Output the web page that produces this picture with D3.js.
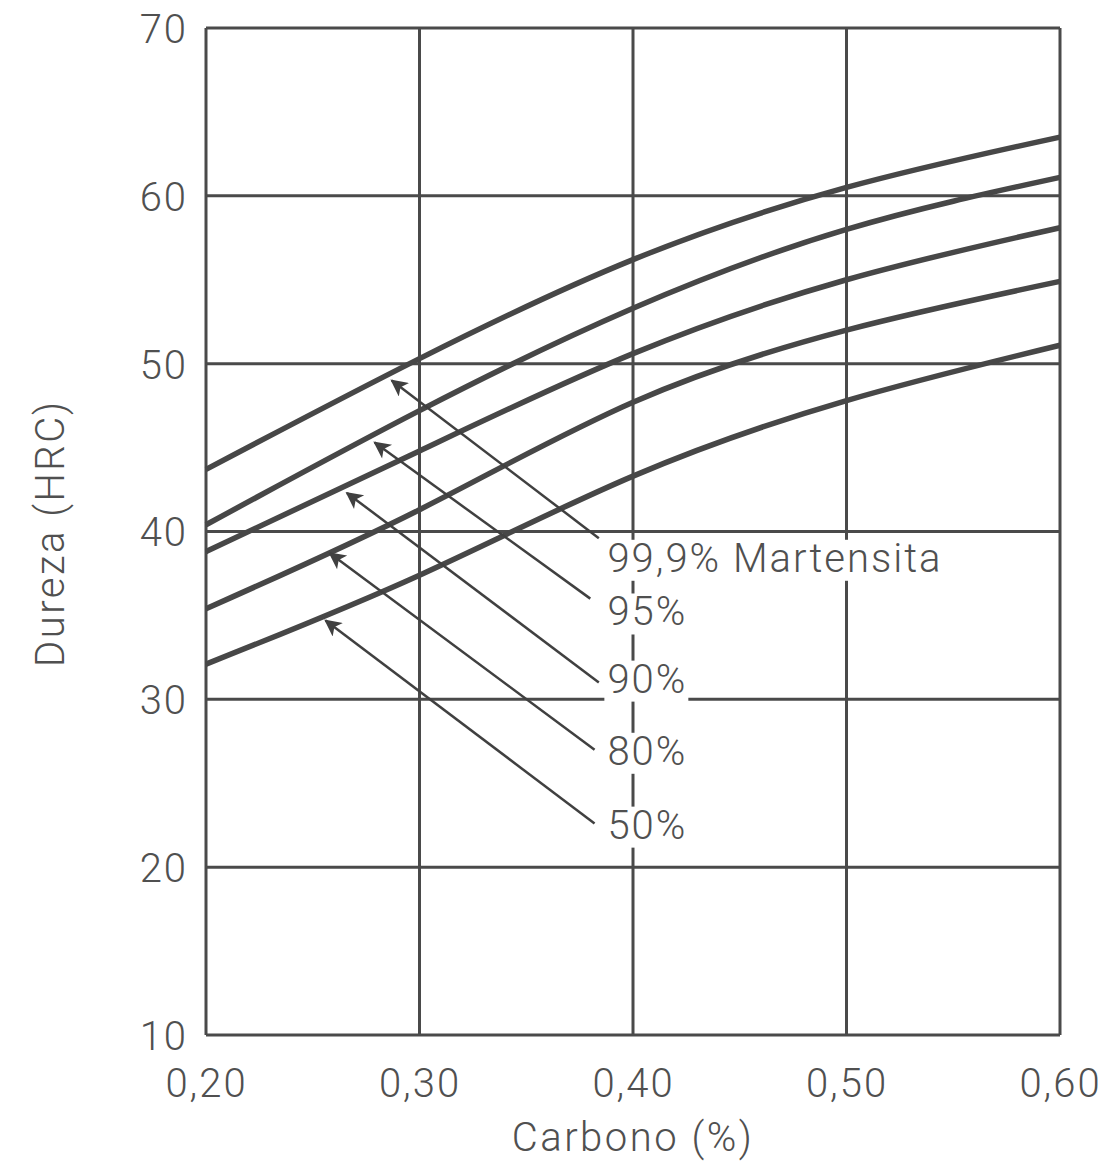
<!DOCTYPE html>
<html lang="es">
<head>
  <meta charset="UTF-8">
  <title>Dureza vs Carbono</title>
  <script src="https://d3js.org/d3.v7.min.js"></script>
  <style>
    body {
      margin: 0;
      background: #fff;
    }
    svg text {
      font-family: Roboto, "Liberation Sans", sans-serif;
      font-weight: 300;
      font-size: 40px;
      letter-spacing: 2px;
      fill: #505050;
    }
    .grid line {
      stroke: #4a4a4a;
      stroke-width: 3;
    }
    .curve {
      fill: none;
      stroke: #474747;
      stroke-width: 5.5;
    }
    .arrow {
      stroke: #404040;
      stroke-width: 2.5;
    }
  </style>
</head>
<body>
  <svg width="1111" height="1170"></svg>
  <script>
    // carbono (%) en cada línea vertical
    const carbon = [0.20, 0.30, 0.40, 0.50, 0.60];
    const xTicks = [0.20, 0.30, 0.40, 0.50, 0.60];
    const yTicks = [10, 20, 30, 40, 50, 60, 70];

    const labels = ["99,9% Martensita", "95%", "90%", "80%", "50%"];
    const hrc999 = [43.7, 50.3, 56.2, 60.5, 63.5];
    const hrc95 = [40.4, 47.2, 53.3, 58.0, 61.1];
    const hrc90 = [38.8, 44.8, 50.6, 55.0, 58.1];
    const hrc80 = [35.4, 41.3, 47.7, 52.0, 54.9];
    const hrc50 = [32.1, 37.4, 43.3, 47.8, 51.1];
    const series = [hrc999, hrc95, hrc90, hrc80, hrc50];

    // flechas: punta (sobre la curva) y cola (junto a la etiqueta)
    const tipC = [0.287, 0.279, 0.266, 0.258, 0.256];
    const tipH = [49.0, 45.3, 42.3, 38.7, 34.7];
    const tailC = [0.384, 0.380, 0.384, 0.382, 0.382];
    const tailH = [39.6, 36.0, 31.0, 27.0, 22.6];
    // posición de las etiquetas (línea base)
    const labelC = [0.388, 0.388, 0.388, 0.388, 0.388];
    const labelH = [37.6, 34.4, 30.4, 26.1, 21.7];

    const svg = d3.select("svg");
    const margin = { top: 28, right: 51, bottom: 135, left: 206 };
    const width = +svg.attr("width") - margin.left - margin.right;
    const height = +svg.attr("height") - margin.top - margin.bottom;

    const x = d3.scaleLinear().domain([0.20, 0.60]).range([0, width]);
    const y = d3.scaleLinear().domain([10, 70]).range([height, 0]);
    const fmt = d => d3.format(".2f")(d).replace(".", ",");

    const g = svg.append("g")
      .attr("transform", `translate(${margin.left},${margin.top})`);

    // rejilla
    const grid = g.append("g").attr("class", "grid");
    grid.selectAll(".vx")
      .data(xTicks)
      .enter()
      .append("line")
      .attr("x1", d => x(d)).attr("x2", d => x(d))
      .attr("y1", 0).attr("y2", height);
    grid.selectAll(".hy")
      .data(yTicks)
      .enter()
      .append("line")
      .attr("y1", d => y(d)).attr("y2", d => y(d))
      .attr("x1", 0).attr("x2", width);

    // ejes (sólo etiquetas)
    const xAxis = g.append("g")
      .attr("transform", `translate(0,${height})`)
      .call(d3.axisBottom(x).tickValues(xTicks).tickFormat(fmt).tickSize(0).tickPadding(34));
    xAxis.select(".domain").remove();
    xAxis.attr("font-size", null).attr("font-family", null);
    xAxis.selectAll("text").attr("fill", null);

    const yAxis = g.append("g")
      .call(d3.axisLeft(y).tickValues(yTicks).tickSize(0).tickPadding(18));
    yAxis.select(".domain").remove();
    yAxis.attr("font-size", null).attr("font-family", null);
    yAxis.selectAll("text").attr("fill", null).attr("dy", "0.36em");

    // curvas
    const line = d3.line()
      .x((d, i) => x(carbon[i]))
      .y(d => y(d))
      .curve(d3.curveNatural);

    g.selectAll(".curve")
      .data(series)
      .enter()
      .append("path")
      .attr("class", "curve")
      .attr("d", line);

    // flechas
    svg.append("defs").append("marker")
      .attr("id", "head")
      .attr("viewBox", "0 0 10 10")
      .attr("refX", 9).attr("refY", 5)
      .attr("markerWidth", 24).attr("markerHeight", 17)
      .attr("markerUnits", "userSpaceOnUse")
      .attr("orient", "auto")
      .append("path")
      .attr("d", "M0,0 L10,5 L0,10 L2.5,5 Z")
      .attr("fill", "#404040");

    g.selectAll(".arrow")
      .data(labels)
      .enter()
      .append("line")
      .attr("class", "arrow")
      .attr("x1", (d, i) => x(tailC[i]))
      .attr("y1", (d, i) => y(tailH[i]))
      .attr("x2", (d, i) => x(tipC[i]))
      .attr("y2", (d, i) => y(tipH[i]))
      .attr("marker-end", "url(#head)");

    // etiquetas con fondo blanco (tapan la rejilla)
    const lab = g.selectAll(".lab")
      .data(labels)
      .enter()
      .append("g")
      .attr("class", "lab");
    const labText = lab.append("text")
      .attr("x", (d, i) => x(labelC[i]))
      .attr("y", (d, i) => y(labelH[i]))
      .text(d => d);
    labText.each(function () {
      const b = this.getBBox();
      d3.select(this.parentNode).insert("rect", "text")
        .attr("x", b.x - 3)
        .attr("y", b.y + 5)
        .attr("width", b.width + 4)
        .attr("height", b.height - 6)
        .attr("fill", "#fff");
    });

    // títulos de ejes
    svg.append("text")
      .attr("x", margin.left + x(0.40))
      .attr("y", 1151)
      .attr("text-anchor", "middle")
      .style("letter-spacing", "2.5px")
      .text("Carbono (%)");

    svg.append("text")
      .attr("transform", `translate(50,${margin.top + y(39.9)}) rotate(-90)`)
      .attr("text-anchor", "middle")
      .attr("dy", "0.35em")
      .style("letter-spacing", "2.5px")
      .text("Dureza (HRC)");
  </script>
</body>
</html>
